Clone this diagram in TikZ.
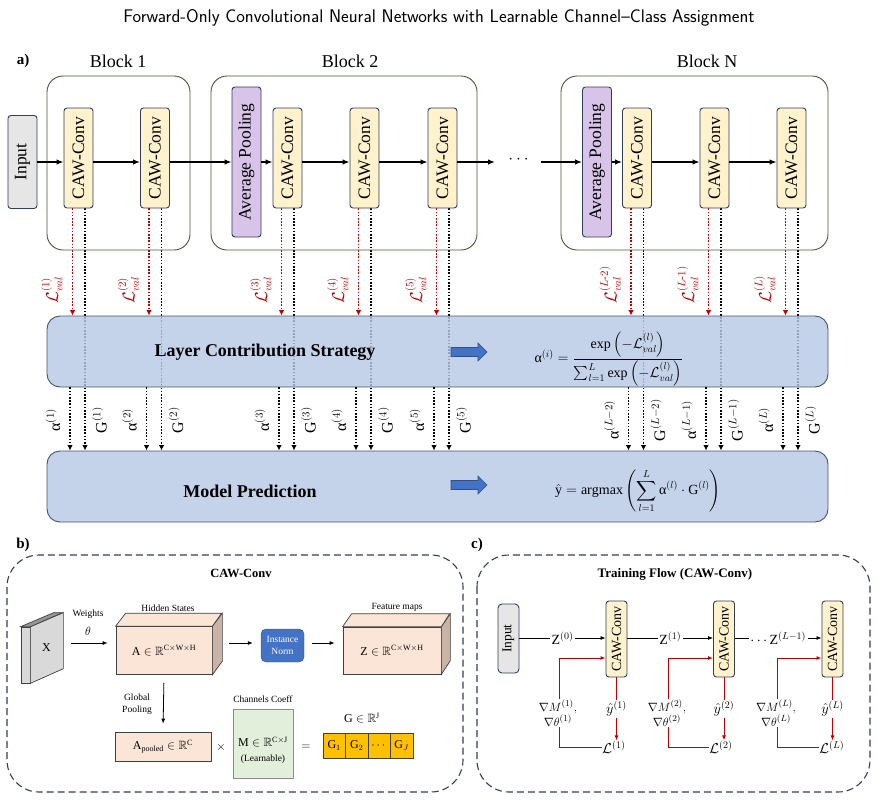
\documentclass[tikz,border=0pt]{standalone}
\usepackage{amsmath,amssymb}
\usepackage{fontspec}
\setmainfont{Liberation Serif}
\usepackage{graphicx}
\usetikzlibrary{arrows.meta,positioning,backgrounds}

\definecolor{blockgreen}{RGB}{67,90,50}
\definecolor{boxnavy}{RGB}{47,62,92}
\definecolor{cawfill}{RGB}{255,242,204}
\definecolor{poolfill}{RGB}{216,195,233}
\definecolor{inputfill}{RGB}{231,230,230}
\definecolor{panelfill}{RGB}{183,201,229}
\definecolor{panelline}{RGB}{65,85,107}
\definecolor{lossred}{RGB}{192,0,0}
\definecolor{normblue}{RGB}{68,114,196}
\definecolor{peach}{RGB}{251,229,214}
\definecolor{peachside}{RGB}{201,178,166}
\definecolor{cubeline}{RGB}{64,64,64}
\definecolor{mintfill}{RGB}{226,239,218}
\definecolor{goldfill}{RGB}{255,192,0}
\definecolor{slabfront}{RGB}{217,217,217}
\definecolor{slabtop}{RGB}{150,150,150}

\newcommand{\vtxt}[1]{\rotatebox{90}{#1}}

\begin{document}
\begin{tikzpicture}[x=1pt,y=-1pt,
  vbox/.style={draw=boxnavy,line width=0.9pt,rounded corners=3pt,inner sep=0pt,font=\fontsize{17.5}{20}\selectfont},
  cawbox/.style={vbox,fill=cawfill,minimum width=29pt,minimum height=100pt},
  poolbox/.style={vbox,fill=poolfill,minimum width=29pt,minimum height=150pt},
  inbox/.style={vbox,fill=inputfill,minimum width=29pt,minimum height=93pt},
  blockframe/.style={draw=blockgreen,line width=0.9pt,rounded corners=16pt},
  blocktitle/.style={font=\fontsize{18}{21}\selectfont},
  parthead/.style={font=\fontsize{15}{18}\selectfont\bfseries},
  flow/.style={-{Latex[length=7pt,width=5.5pt]},line width=1.3pt},
  dotline/.style={dash pattern=on 1.6pt off 1.6pt,line width=1.6pt,-{Latex[length=5.5pt,width=5.5pt]}},
  lossline/.style={dotline,draw=lossred},
  vlabel/.style={rotate=90,inner sep=0pt,font=\fontsize{16}{18}\selectfont},
  panel/.style={draw=panelline,fill=panelfill,fill opacity=0.82,line width=0.9pt,rounded corners=13pt,minimum width=781pt,minimum height=71pt},
  panelhead/.style={font=\fontsize{18}{21}\selectfont\bfseries},
  hint/.pic={\filldraw[fill=normblue,draw=normblue!70!black,line width=0.6pt] (-18,-4.5) -- (9,-4.5) -- (9,-9) -- (18,0) -- (9,9) -- (9,4.5) -- (-18,4.5) -- cycle;},
  dashframe/.style={draw=boxnavy,line width=1.1pt,dash pattern=on 7pt off 4pt,rounded corners=32pt},
  subhead/.style={font=\fontsize{12.5}{15}\selectfont\bfseries},
  smalltext/.style={font=\fontsize{9.5}{11.5}\selectfont,align=center},
  cubefront/.style={draw=cubeline,fill=peach,line width=0.7pt,inner sep=0pt,font=\fontsize{12}{14}\selectfont},
  thinflow/.style={-{Latex[length=5pt,width=4pt]},line width=0.8pt,shorten <=8pt,shorten >=8pt},
  gcell/.style={draw=cubeline,fill=goldfill,line width=0.8pt,minimum width=22.5pt,minimum height=25pt,inner sep=0pt,font=\fontsize{12}{14}\selectfont},
  tcaw/.style={vbox,fill=cawfill,minimum width=21pt,minimum height=76pt,font=\fontsize{14}{16}\selectfont},
  tinput/.style={vbox,fill=inputfill,minimum width=21pt,minimum height=69pt,rounded corners=4pt,font=\fontsize{13.5}{16}\selectfont},
  tflow/.style={-{Latex[length=5pt,width=4pt]},line width=0.8pt},
  redflow/.style={tflow,draw=lossred,line width=1pt},
  mathlbl/.style={fill=white,inner sep=1.5pt,font=\fontsize{14}{16}\selectfont}]

\useasboundingbox (0,0) rectangle (878,806);

\node[font=\sffamily\fontsize{18.3}{21}\selectfont] (title) at (439,18) {Forward-Only Convolutional Neural Networks with Learnable Channel--Class Assignment};

% a) forward network
\node[parthead] (pa) at (23,61) {a)};
\node[blocktitle] (b1) at (118,61) {Block 1};
\node[blocktitle] (b2) at (350,61) {Block 2};
\node[blocktitle] (bN) at (707,61) {Block N};
\draw[blockframe] (47,76) rectangle (190,250);
\draw[blockframe] (211,76) rectangle (477,250);
\draw[blockframe] (561,76) rectangle (828,250);

\node[inbox] (inp) at (22.5,162) {\vtxt{Input}};
\node[cawbox] (c1) at (78.5,158) {\vtxt{CAW-Conv}};
\node[cawbox] (c2) at (155,158) {\vtxt{CAW-Conv}};
\node[poolbox] (p2) at (246.5,162) {\vtxt{Average Pooling}};
\node[cawbox] (c3) at (287.5,158) {\vtxt{CAW-Conv}};
\node[cawbox] (c4) at (364.5,158) {\vtxt{CAW-Conv}};
\node[cawbox] (c5) at (442.5,158) {\vtxt{CAW-Conv}};
\coordinate (gapL) at (495,162);
\node[font=\fontsize{18}{20}\selectfont] (dots) at (520,160) {$\cdots$};
\coordinate (gapR) at (541,162);
\node[poolbox] (pN) at (597,162) {\vtxt{Average Pooling}};
\node[cawbox] (c6) at (637,158) {\vtxt{CAW-Conv}};
\node[cawbox] (c7) at (714.5,158) {\vtxt{CAW-Conv}};
\node[cawbox] (c8) at (791.5,158) {\vtxt{CAW-Conv}};

\foreach \a/\b in {inp/c1,c1/c2,c2/p2,p2/c3,c3/c4,c4/c5,pN/c6,c6/c7,c7/c8}
  \draw[flow] (\a.east |- inp) -- (\b.west |- inp);
\draw[flow] (c5.east |- inp) -- (gapL);
\draw[flow] (gapR) -- (pN.west |- inp);

\node[panel] (lcs) at (437.5,351.5) {};
\node[panel] (mp) at (437.5,486.5) {};
\node[panelhead] (lcstext) at (265,352) {Layer Contribution Strategy};
\node[panelhead] (mptext) at (250,491) {Model Prediction};
\pic at (469,352) {hint};
\pic at (469,485) {hint};
\node[font=\fontsize{14}{16}\selectfont] (lcsform) at (609,359) {$\text{α}^{(i)}=\dfrac{\exp\left(-\mathcal{L}^{(l)}_{val}\right)}{\sum\nolimits_{l=1}^{L}\exp\left(-\mathcal{L}^{(l)}_{val}\right)}$};
\node[font=\fontsize{14}{16}\selectfont] (mpform) at (638,491) {$\hat{\text{y}}=\operatorname{argmax}\left(\displaystyle\sum_{l=1}^{L}\text{α}^{(l)}\cdot\mathrm{G}^{(l)}\right)$};

\begin{pgfonlayer}{background}
\foreach \i in {1,...,8}
  \draw[dotline] ([xshift=6.5pt]c\i.south) -- ([xshift=6.5pt]c\i.south |- mp.north);
\end{pgfonlayer}

\foreach \i/\k/\m in {1/1/1,2/2/2,3/3/3,4/4/4,5/5/5,6/L\text{-}2/L-2,7/L\text{-}1/L-1,8/L/L}{
  \draw[lossline] ([xshift=-6pt]c\i.south) -- ([xshift=-6pt]c\i.south |- lcs.north);
  \draw[dotline] ([xshift=-8.5pt]c\i.south |- lcs.south) -- ([xshift=-8.5pt]c\i.south |- mp.north);
  \node[vlabel,text=lossred,anchor=south west] at ([xshift=-16pt]c\i.south |- 0,304) {$\mathcal{L}^{(\k)}_{val}$};
  \node[vlabel,anchor=south] at ([xshift=-18pt]c\i.south |- 0,420) {$\text{α}^{(\m)}$};
  \node[vlabel,anchor=north] at ([xshift=13.5pt]c\i.south |- 0,420) {$\mathrm{G}^{(\m)}$};
}

% b) CAW-Conv layer
\node[parthead] (pb) at (23,545) {b)};
\draw[dashframe] (7,555) rectangle (463,792);
\node[subhead] (bhead) at (241,573) {CAW-Conv};

\node[draw=cubeline,fill=slabfront,line width=0.7pt,minimum width=9pt,minimum height=56pt,inner sep=0pt] (xs) at (25.5,655) {};
\filldraw[fill=slabfront,draw=cubeline,line width=0.7pt] (xs.north east) -- ++(33,-14) -- ++(0,56) -- (xs.south east) -- cycle;
\filldraw[fill=slabtop,draw=cubeline,line width=0.7pt] (xs.north west) -- ++(33,-14) -- ++(9,0) -- (xs.north east) -- cycle;
\node[font=\fontsize{12}{14}\selectfont] (xlbl) at (46.5,648) {X};
\coordinate (xr) at (63,643);

\node[cubefront,minimum width=96pt,minimum height=48pt] (hid) at (164,650.5) {$\mathrm{A}\in\mathbb{R}^{\mathrm{C\times W\times H}}$};
\filldraw[fill=peachside,draw=cubeline,line width=0.7pt] (hid.north east) -- ++(10,-13) -- ++(0,48) -- (hid.south east) -- cycle;
\filldraw[fill=peach,draw=cubeline,line width=0.7pt] (hid.north west) -- ++(10,-13) -- ++(96,0) -- (hid.north east) -- cycle;
\node[smalltext] (hidlbl) at (168,608) {Hidden States};

\node[draw=normblue!70!black,fill=normblue,rounded corners=5pt,minimum width=43pt,minimum height=33pt,inner sep=0pt,text=white,smalltext] (norm) at (282.5,645.5) {Instance\\Norm};

\node[cubefront,minimum width=98pt,minimum height=47pt] (feat) at (392,650.5) {$\mathrm{Z}\in\mathbb{R}^{\mathrm{C\times W\times H}}$};
\filldraw[fill=peachside,draw=cubeline,line width=0.7pt] (feat.north east) -- ++(9,-13) -- ++(0,47) -- (feat.south east) -- cycle;
\filldraw[fill=peach,draw=cubeline,line width=0.7pt] (feat.north west) -- ++(9,-13) -- ++(98,0) -- (feat.north east) -- cycle;
\node[smalltext] (featlbl) at (397,607) {Feature maps};

\node[smalltext] (wlbl) at (88,614) {Weights};
\node[font=\fontsize{13}{15}\selectfont] (theta) at (88,631) {$\theta$};
\draw[thinflow] (xr) -- (hid.west |- xr);
\draw[thinflow,shorten <=17pt] (hid.east |- xr) -- (norm.west |- xr);
\draw[thinflow] (norm.east |- xr) -- (feat.west |- xr);

\node[cubefront,minimum width=96pt,minimum height=29pt] (apool) at (163,746.5) {$\mathrm{A}_{\mathrm{pooled}}\in\mathbb{R}^{\mathrm{C}}$};
\draw[thinflow] (hid.south) -- (apool.north);
\node[smalltext] (gplbl) at (137,704) {Global\\Pooling};
\node[font=\fontsize{12}{14}\selectfont] (times) at (221,747) {$\times$};
\node[draw=cubeline!60,fill=mintfill,line width=0.8pt,minimum width=60pt,minimum height=69pt] (mcoef) at (263,743.5) {};
\node[font=\fontsize{12}{14}\selectfont] (mtext) at (263,742) {$\mathrm{M}\in\mathbb{R}^{\mathrm{C\times J}}$};
\node[smalltext] (mlearn) at (263,759) {(Learnable)};
\node[smalltext] (mlbl) at (263,699) {Channels Coeff};
\node[font=\fontsize{12}{14}\selectfont] (eq) at (306,747) {$=$};
\foreach \t [count=\i] in {$\mathrm{G}_1$,$\mathrm{G}_2$,$\cdots$,$\mathrm{G}_J$}
  \node[gcell] (g\i) at (311.75+22.5*\i,745.5) {\t};
\node[font=\fontsize{12}{14}\selectfont] (glbl) at (362,718) {$\mathrm{G}\in\mathbb{R}^{\mathrm{J}}$};

% c) training flow
\node[parthead] (pc) at (477,545) {c)};
\draw[dashframe] (477,555) rectangle (870,792);
\node[subhead,font=\fontsize{13}{15}\selectfont\bfseries] (chead) at (675,574) {Training Flow (CAW-Conv)};

\node[tinput] (tin) at (508.5,638.5) {\vtxt{Input}};
\node[tcaw] (tc1) at (616.5,639) {\vtxt{CAW-Conv}};
\node[tcaw] (tc2) at (724,639) {\vtxt{CAW-Conv}};
\node[tcaw] (tc3) at (832.5,639) {\vtxt{CAW-Conv}};
\draw[tflow] (tin.east |- 0,638) -- node[mathlbl] {$\mathrm{Z}^{(0)}$} (tc1.west |- 0,638);
\draw[tflow] (tc1.east |- 0,638) -- node[mathlbl] {$\mathrm{Z}^{(1)}$} (tc2.west |- 0,638);
\draw[tflow] (tc2.east |- 0,638) -- node[mathlbl] {$\cdots\mathrm{Z}^{(L-1)}$} (tc3.west |- 0,638);

\node[font=\fontsize{14}{16}\selectfont,anchor=west,inner sep=0pt] (tl1) at (602,747) {$\mathcal{L}^{(1)}$};
\node[font=\fontsize{14}{16}\selectfont,anchor=west,inner sep=0pt] (tl2) at (709,747) {$\mathcal{L}^{(2)}$};
\node[font=\fontsize{14}{16}\selectfont,anchor=west,inner sep=0pt] (tl3) at (819,747) {$\mathcal{L}^{(L)}$};
\coordinate (fb1) at (559,658);
\coordinate (fb2) at (668,658);
\coordinate (fb3) at (777,658);
\foreach \i/\k in {1/1,2/2,3/L}{
  \draw[redflow] (tc\i.south) -- node[mathlbl,inner sep=0.8pt] {$\hat{y}^{(\k)}$} (tc\i.south |- tl\i.north);
  \draw[redflow] (tl\i.west) -| (fb\i) -- (tc\i.west |- fb\i);
  \node[mathlbl,font=\fontsize{12.5}{15}\selectfont,align=center,inner sep=0.8pt] at ([xshift=-1pt,yshift=-55pt]fb\i) {$\nabla M^{(\k)},$\\$\nabla\theta^{(\k)}$};
}
\end{tikzpicture}
\end{document}
